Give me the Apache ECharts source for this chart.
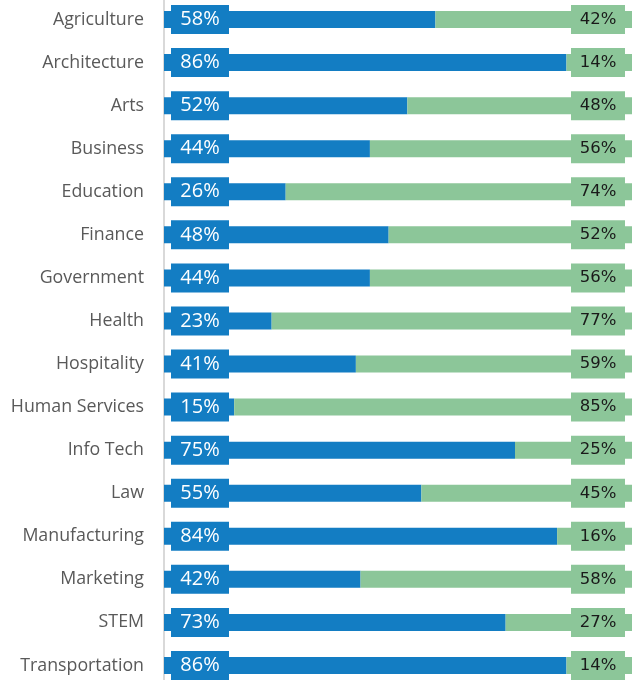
<!DOCTYPE html>
<html><head><meta charset="utf-8">
<script src="https://cdn.jsdelivr.net/npm/echarts@6/dist/echarts.min.js"></script>
<style>html,body{margin:0;padding:0;background:#fff;overflow:hidden}#c{position:absolute;left:0;top:-2px;width:637px;height:689px}</style>
</head><body><div id="c"></div>
<script>
const categories = ["Agriculture","Architecture","Arts","Business","Education","Finance","Government","Health","Hospitality","Human Services","Info Tech","Law","Manufacturing","Marketing","STEM","Transportation"];
const blueValues = [58,86,52,44,26,48,44,23,41,15,75,55,84,42,73,86];
const greenValues = [42,14,48,56,74,52,56,77,59,85,25,45,16,58,27,14];

const chart = echarts.init(document.getElementById('c'));
chart.setOption({
  animation: false,
  grid: {left: 164, right: 5, top: 0, bottom: 0, containLabel: false},
  xAxis: {type: 'value', min: 0, max: 100, show: false},
  yAxis: {
    type: 'category', data: categories, inverse: true,
    axisLine: {show: true, lineStyle: {color: '#d9d9d9', width: 2}},
    axisTick: {show: false},
    axisLabel: {color: '#595959', fontSize: 17.8, fontFamily: 'Open Sans', margin: 20}
  },
  series: [
    {
      type: 'bar', stack: 's', data: blueValues, barWidth: 17,
      itemStyle: {color: '#137dc3'},
      label: {
        show: true, position: 'insideLeft', distance: 7, formatter: '{c}%',
        color: '#fff', fontSize: 20, fontFamily: 'Open Sans',
        backgroundColor: '#137dc3', width: 50, height: 21, lineHeight: 21,
        padding: [4, 4], align: 'center', offset: [29, 0]
      }
    },
    {
      type: 'bar', stack: 's', data: greenValues, barWidth: 17,
      itemStyle: {color: '#8cc699'},
      label: {
        show: true, position: 'insideRight', distance: 7, formatter: '{c}%',
        color: '#1a1a1a', fontSize: 16.5, fontFamily: 'DejaVu Sans',
        backgroundColor: '#8cc699', width: 46, height: 21, lineHeight: 21,
        padding: [4, 4], align: 'center', offset: [-27, 0]
      }
    }
  ]
});
</script></body></html>
